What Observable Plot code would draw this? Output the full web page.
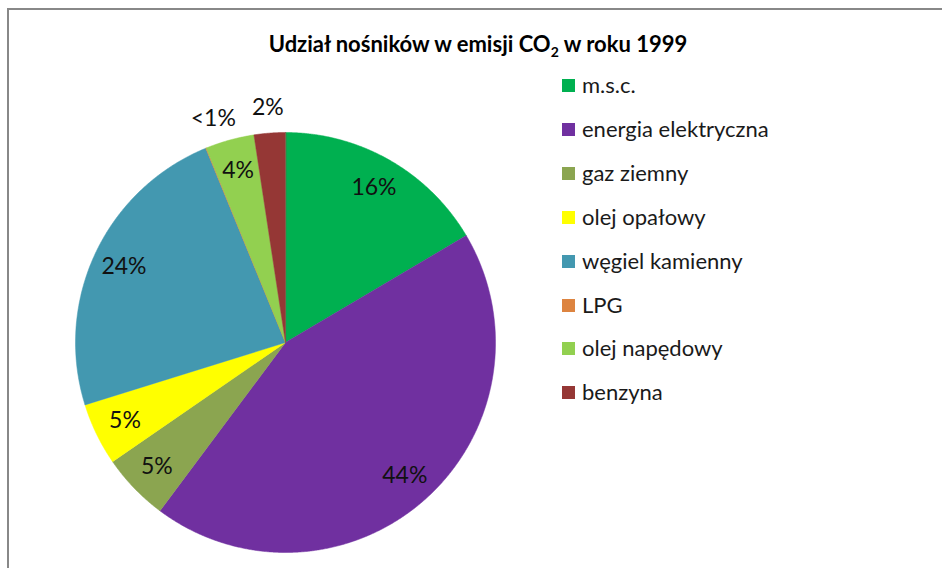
<!DOCTYPE html>
<html>
<head>
<meta charset="utf-8">
<script src="https://cdn.jsdelivr.net/npm/d3@7"></script>
<script src="https://cdn.jsdelivr.net/npm/@observablehq/plot@0.6"></script>
<style>
  body { margin: 0; background: #fff; }
  #wrap { position: relative; width: 942px; height: 568px; overflow: hidden; font-family: Lato, "Open Sans", sans-serif; }
  #frame { position: absolute; left: 7px; top: 8px; width: 960px; height: 600px; border-left: 2px solid #888; border-top: 2px solid #888; }
  #title { position: absolute; left: 0; width: 956px; top: 30px; text-align: center; font-weight: bold; font-size: 22px; line-height: 28px; color: #000; }
  #title sub { font-size: 14px; vertical-align: -5px; line-height: 0; }
  #legend { position: absolute; left: 562px; top: 74px; }
  .item { position: absolute; left: 0; height: 24px; line-height: 24px; white-space: nowrap; font-size: 22px; color: #1a1a1a; }
  .sw { position: absolute; left: 0; top: 5px; width: 13px; height: 13px; }
  .lab { position: absolute; left: 20px; top: -1px; }
  #chart { position: absolute; left: 0; top: 0; }
</style>
</head>
<body>
<div id="wrap">
  <div id="frame"></div>
  <div id="chart"></div>
  <div id="title">Udział nośników w emisji CO<sub>2</sub> w roku 1999</div>
  <div id="legend"></div>
</div>
<script>
const categories = ["m.s.c.", "energia elektryczna", "gaz ziemny", "olej opałowy", "węgiel kamienny", "LPG", "olej napędowy", "benzyna"];
const shares = [16.5, 43.7, 5.2, 4.8, 23.6, 0.05, 3.75, 2.4];
const shareLabels = ["16%", "44%", "5%", "5%", "24%", "<1%", "4%", "2%"];
const colors = ["#00B050", "#7030A0", "#8BA550", "#FFFF00", "#4398B0", "#DD8440", "#92D050", "#953735"];
const outsideLabel = [false, false, false, false, false, true, false, true];

const cx = 285, cy = 342, r = 210;

const arcs = d3.pie().sort(null).value(d => d)(shares);
const polys = [];
arcs.forEach((a, i) => {
  polys.push({cat: categories[i], x: 0, y: 0});
  const n = Math.max(2, Math.ceil((a.endAngle - a.startAngle) / 0.005));
  for (let k = 0; k <= n; k++) {
    const t = a.startAngle + (a.endAngle - a.startAngle) * k / n;
    polys.push({cat: categories[i], x: Math.sin(t), y: Math.cos(t)});
  }
});
const labelPts = arcs.map((a, i) => {
  const m = (a.startAngle + a.endAngle) / 2;
  const rho = outsideLabel[i] ? 1.12 : 0.85;
  return {text: shareLabels[i], x: rho * Math.sin(m), y: rho * Math.cos(m)};
});
// Excel's best-fit placement moves "<1%" a little away from "2%"
labelPts[5].x += 0.08; labelPts[5].y += 0.03;

const plot = Plot.plot({
  width: 942,
  height: 568,
  margin: 0,
  x: {domain: [-1, 1], range: [cx - r, cx + r], axis: null},
  y: {domain: [-1, 1], range: [cy + r, cy - r], axis: null},
  color: {domain: categories, range: colors},
  style: {fontFamily: "Lato, 'Open Sans', sans-serif", background: "transparent", overflow: "visible"},
  marks: [
    Plot.line(polys, {x: "x", y: "y", z: "cat", fill: "cat", stroke: "cat", strokeWidth: 0.5, curve: "linear-closed"}),
    Plot.text(labelPts, {x: "x", y: "y", text: "text", fontSize: 23, fill: "#111"})
  ]
});
document.getElementById("chart").appendChild(plot);

const leg = document.getElementById("legend");
categories.forEach((c, i) => {
  const it = document.createElement("div");
  it.className = "item";
  it.style.top = (i * 43.9) + "px";
  it.innerHTML = `<span class="sw" style="background:${colors[i]}"></span><span class="lab">${c}</span>`;
  leg.appendChild(it);
});
</script>
</body>
</html>
